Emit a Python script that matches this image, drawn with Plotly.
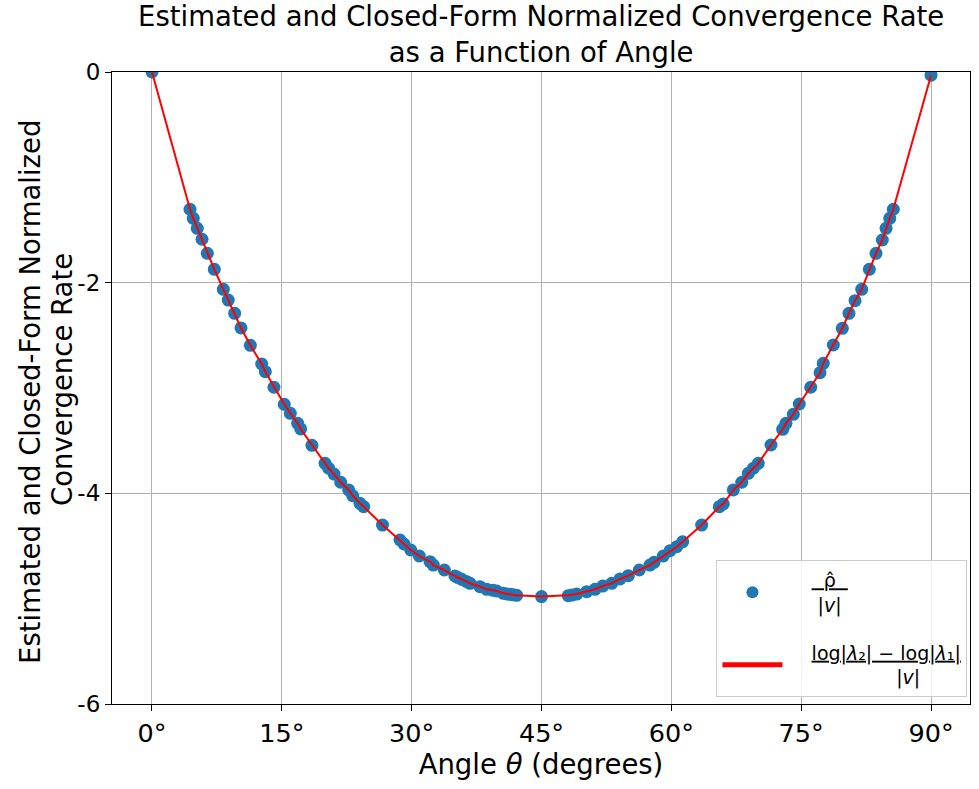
import plotly.graph_objects as go

# Angles (degrees) and normalized convergence rates
theta_left = [0.0, 4.39, 4.77, 5.23, 5.78, 6.39, 7.20, 8.24, 8.81, 9.55, 10.28, 11.36,
              12.67, 13.09, 14.09, 15.28, 15.98, 16.83, 17.18, 18.48, 19.99, 20.41,
              21.03, 21.80, 22.72, 23.19, 24.03, 24.46, 26.63, 28.65, 29.11, 29.89,
              30.88, 32.12, 32.50, 33.77, 35.00, 35.35, 35.78, 36.30, 36.74, 37.89, 38.67,
              39.40, 39.82, 40.58, 41.00, 41.36, 41.75, 42.13]
rate_left = [0.0, -1.303, -1.389, -1.484, -1.588, -1.721, -1.873, -2.063, -2.165, -2.291,
             -2.430, -2.595, -2.772, -2.845, -2.993, -3.155, -3.240, -3.335, -3.389,
             -3.544, -3.715, -3.762, -3.817, -3.895, -3.968, -4.023, -4.095, -4.127,
             -4.301, -4.443, -4.481, -4.538, -4.595, -4.649, -4.681, -4.728, -4.785,
             -4.800, -4.816, -4.836, -4.854, -4.886, -4.911, -4.921, -4.927, -4.949,
             -4.955, -4.959, -4.964, -4.968]
theta_mid = [45.0]
rate_mid = [-4.98]
theta_right = [48.09, 48.50, 49.06, 50.22, 51.18, 52.07, 53.11, 54.07, 55.03, 56.30, 57.53,
               58.00, 59.07, 59.84, 60.62, 61.31, 63.50, 65.54, 66.00, 67.16, 68.13,
               68.89, 69.47, 70.04, 71.51, 72.86, 73.24, 74.09, 74.78, 76.10, 77.17,
               77.55, 78.71, 79.75, 80.52, 81.22, 81.99, 82.87, 83.64, 84.37, 84.80,
               85.23, 85.64, 90.0]
rate_right = [-4.972, -4.966, -4.956, -4.934, -4.911, -4.880, -4.854, -4.813, -4.782,
              -4.728, -4.681, -4.655, -4.595, -4.545, -4.507, -4.459, -4.301, -4.127,
              -4.101, -3.968, -3.895, -3.810, -3.762, -3.715, -3.541, -3.392, -3.335,
              -3.250, -3.152, -2.993, -2.855, -2.766, -2.592, -2.433, -2.291, -2.171,
              -2.063, -1.873, -1.721, -1.595, -1.484, -1.389, -1.303, -0.03]

theta = theta_left + theta_mid + theta_right
rate_est = rate_left + rate_mid + rate_right
rate_closed = rate_left + rate_mid + rate_right

x_ticks = [0, 15, 30, 45, 60, 75, 90]
x_tick_labels = ["0°", "15°", "30°", "45°", "60°", "75°", "90°"]
y_ticks = [0, -2, -4, -6]
y_tick_labels = ["0", "-2", "-4", "-6"]

FONT = "DejaVu Sans"
NB = "&nbsp;"

fig = go.Figure()
fig.add_trace(go.Scatter(
    x=theta, y=rate_est, mode="markers",
    marker=dict(color="#1f77b4", size=13, line=dict(width=0)),
    legendgroup="est",
    name=f"{NB*4}<u>{NB*2}ρ̂{NB*2}</u><br>{NB*5}|<i>v</i>|",
))
fig.add_trace(go.Scatter(
    x=theta, y=rate_closed, mode="lines",
    line=dict(color="red", width=2),
    legendgroup="closed",
    name=f"{NB*4}<u>log|<i>λ</i>₂| − log|<i>λ</i>₁|</u><br>{NB*18}|<i>v</i>|",
))

axis_common = dict(
    showgrid=True, gridcolor="#b0b0b0", gridwidth=1,
    showline=True, linecolor="black", linewidth=1.2, mirror=True,
    ticks="outside", ticklen=6, tickcolor="black",
    zeroline=False,
)

fig.update_layout(
    width=979, height=789,
    margin=dict(l=112, r=9, t=72, b=85),
    paper_bgcolor="white", plot_bgcolor="white",
    font=dict(family=FONT, color="black"),
    xaxis=dict(
        range=[-4.62, 94.5], tickvals=x_ticks, ticktext=x_tick_labels,
        tickfont=dict(family=FONT, size=25.5, color="black"),
        title=dict(text="Angle <i>θ</i> (degrees)", font=dict(family=FONT, size=27.5), standoff=6),
        **axis_common,
    ),
    yaxis=dict(
        range=[-6, 0], tickvals=y_ticks, ticktext=y_tick_labels,
        tickfont=dict(family=FONT, size=23, color="black"),
        **axis_common,
    ),
    annotations=[
        dict(
            text="Estimated and Closed-Form Normalized Convergence Rate<br>as a Function of Angle",
            xref="paper", yref="paper", x=0.5, y=1, yshift=2,
            xanchor="center", yanchor="bottom", showarrow=False,
            font=dict(family=FONT, size=27.5, color="black"),
        ),
        dict(
            text="Estimated and Closed-Form Normalized",
            xref="paper", yref="paper", x=(30 - 112) / 858, y=(704 - 392) / 632,
            xanchor="center", yanchor="middle", textangle=-90, showarrow=False,
            font=dict(family=FONT, size=27.5, color="black"),
        ),
        dict(
            text="Convergence Rate",
            xref="paper", yref="paper", x=(62 - 112) / 858, y=(704 - 380) / 632,
            xanchor="center", yanchor="middle", textangle=-90, showarrow=False,
            font=dict(family=FONT, size=27.5, color="black"),
        ),
    ],
    legend=dict(
        x=0.997, y=0.011, xanchor="right", yanchor="bottom",
        bgcolor="rgba(255,255,255,0.85)", bordercolor="#cccccc", borderwidth=1,
        font=dict(family=FONT, size=19, color="black"),
        itemsizing="constant", itemwidth=60, tracegroupgap=20,
        traceorder="grouped",
    ),
    showlegend=True,
)

fig.write_html("out.html")
